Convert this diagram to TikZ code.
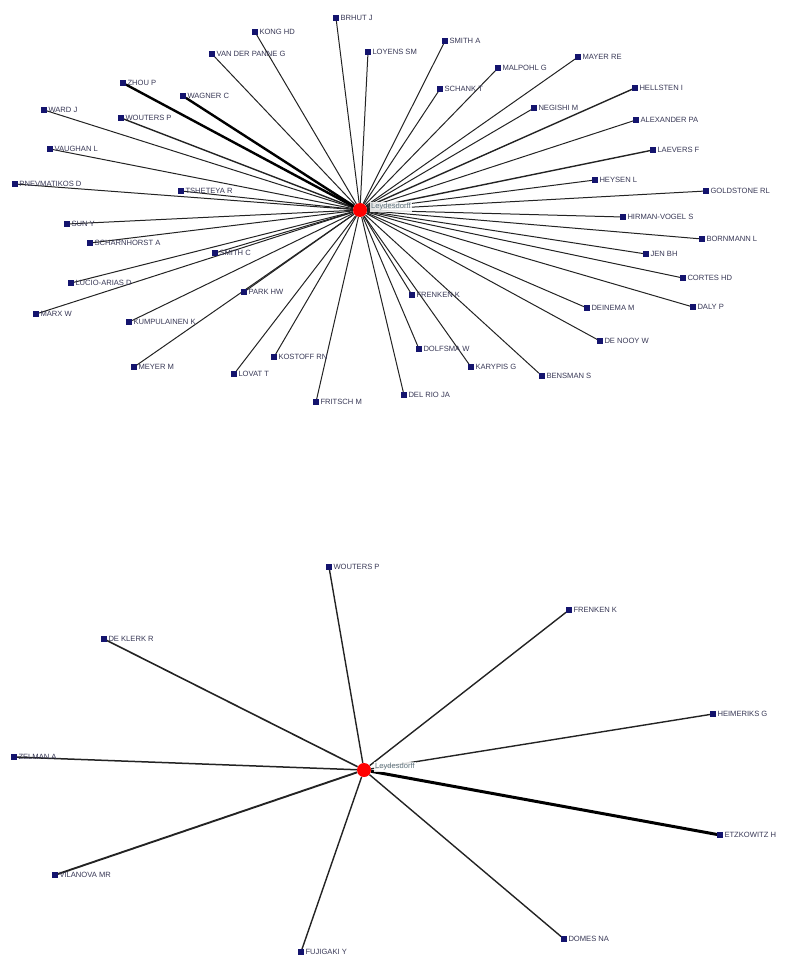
\documentclass[tikz,border=0pt]{standalone}
\usepackage{fontspec}
\setmainfont{Liberation Sans}
\pgfdeclarelayer{bg}
\pgfsetlayers{bg,main}
\definecolor{mkc}{RGB}{20,20,110}
\definecolor{lblc}{RGB}{55,55,85}
\definecolor{ctrc}{RGB}{95,115,125}
\definecolor{edgec}{RGB}{35,35,35}
\tikzset{
  mk/.style={rectangle,fill=mkc,draw=none,minimum size=5.4pt,inner sep=0pt,
    label={[lbl]right:#1}},
  lbl/.style={font=\fontsize{7.6}{9}\selectfont,text=lblc,inner sep=0.8pt,label distance=0.6pt},
  hub/.style={circle,fill=red,draw=none,minimum size=14pt,inner sep=0pt},
  hublbl/.style={font=\fontsize{7.6}{9}\selectfont,text=ctrc,anchor=west,inner sep=1pt,fill=white,fill opacity=0.85,text opacity=1},
  edge/.style={draw=edgec,line width=1pt},
  edgeb/.style={draw=edgec,line width=1.4pt},
  edgec/.style={draw=black,line width=2.4pt},
}
\begin{document}
\begin{tikzpicture}[x=1pt,y=-1pt]
\useasboundingbox (0,0) rectangle (808,957);
% ---------- top graph ----------
\node[hub] (c1) at (360,210) {};
\node[hublbl] (c1l) at (370,207) {Leydesdorff};
\node[mk=KONG HD] (kong) at (255,32) {};
\node[mk=BRHUT J] (brhut) at (336,18) {};
\node[mk=LOYENS SM] (loyens) at (368,52) {};
\node[mk=SMITH A] (smitha) at (445,41) {};
\node[mk=VAN DER PANNE G] (vdp) at (212,54) {};
\node[mk=MALPOHL G] (malpohl) at (498,68) {};
\node[mk=MAYER RE] (mayer) at (578,57) {};
\node[mk=SCHANK T] (schank) at (440,89) {};
\node[mk=ZHOU P] (zhou) at (123,83) {};
\node[mk=WAGNER C] (wagner) at (183,96) {};
\node[mk=HELLSTEN I] (hellsten) at (635,88) {};
\node[mk=NEGISHI M] (negishi) at (534,108) {};
\node[mk=WARD J] (ward) at (44,110) {};
\node[mk=WOUTERS P] (wouters) at (121,118) {};
\node[mk=ALEXANDER PA] (alex) at (636,120) {};
\node[mk=VAUGHAN L] (vaughan) at (50,149) {};
\node[mk=LAEVERS F] (laevers) at (653,150) {};
\node[mk=PNEVMATIKOS D] (pnev) at (15,184) {};
\node[mk=TSHETEYA R] (tsh) at (181,191) {};
\node[mk=HEYSEN L] (heysen) at (595,180) {};
\node[mk=GOLDSTONE RL] (gold) at (706,191) {};
\node[mk=SUN Y] (sun) at (67,224) {};
\node[mk=HIRMAN-VOGEL S] (hirman) at (623,217) {};
\node[mk=SCHARNHORST A] (scharn) at (90,243) {};
\node[mk=SMITH C] (smithc) at (215,253) {};
\node[mk=BORNMANN L] (born) at (702,239) {};
\node[mk=JEN BH] (jen) at (646,254) {};
\node[mk=LUCIO-ARIAS D] (lucio) at (71,283) {};
\node[mk=CORTES HD] (cortes) at (683,278) {};
\node[mk=PARK HW] (park) at (244,292) {};
\node[mk=FRENKEN K] (frenken) at (412,295) {};
\node[mk=DALY P] (daly) at (693,307) {};
\node[mk=MARX W] (marx) at (36,314) {};
\node[mk=KUMPULAINEN K] (kump) at (129,322) {};
\node[mk=DEINEMA M] (deinema) at (587,308) {};
\node[mk=KOSTOFF RN] (kostoff) at (274,357) {};
\node[mk=DOLFSMA W] (dolfsma) at (419,349) {};
\node[mk=DE NOOY W] (denooy) at (600,341) {};
\node[mk=MEYER M] (meyer) at (134,367) {};
\node[mk=LOVAT T] (lovat) at (234,374) {};
\node[mk=KARYPIS G] (karypis) at (471,367) {};
\node[mk=BENSMAN S] (bensman) at (542,376) {};
\node[mk=FRITSCH M] (fritsch) at (316,402) {};
\node[mk=DEL RIO JA] (delrio) at (404,395) {};
% ---------- bottom graph ----------
\node[hub] (c2) at (364,770) {};
\node[hublbl] (c2l) at (374,767) {Leydesdorff};
\node[mk=WOUTERS P] (bwouters) at (329,567) {};
\node[mk=FRENKEN K] (bfrenken) at (569,610) {};
\node[mk=DE KLERK R] (bklerk) at (104,639) {};
\node[mk=HEIMERIKS G] (bheim) at (713,714) {};
\node[mk=ZELMAN A] (bzelman) at (14,757) {};
\node[mk=ETZKOWITZ H] (betz) at (720,835) {};
\node[mk=VILANOVA MR] (bvil) at (55,875) {};
\node[mk=DOMES NA] (bdomes) at (564,939) {};
\node[mk=FUJIGAKI Y] (bfuji) at (301,952) {};
% ---------- edges ----------
\begin{pgfonlayer}{bg}
\foreach \n in {kong,brhut,loyens,smitha,vdp,malpohl,mayer,schank,negishi,ward,
  alex,vaughan,pnev,tsh,heysen,gold,sun,hirman,scharn,smithc,born,jen,lucio,
  cortes,park,frenken,daly,marx,kump,deinema,kostoff,dolfsma,denooy,meyer,lovat,
  karypis,bensman,fritsch,delrio}
  \draw[edge] (c1) -- (\n);
\draw[edgeb] (c1) -- (wouters);
\draw[edgeb] (c1) -- (laevers);
\draw[edgeb] (c1) -- (hellsten);
\draw[edgec] (c1) -- (zhou);
\draw[edgec] (c1) -- (wagner);
\foreach \n in {bwouters,bfrenken,bheim,bdomes,bfuji}
  \draw[edgeb] (c2) -- (\n);
\draw[draw=edgec,line width=1.6pt] (c2) -- (bklerk);
\draw[draw=edgec,line width=1.5pt] (c2) -- (bzelman);
\draw[draw=edgec,line width=1.9pt] (c2) -- (bvil);
\draw[draw=black,line width=3pt] (c2) -- (betz);
\end{pgfonlayer}
\end{tikzpicture}
\end{document}
